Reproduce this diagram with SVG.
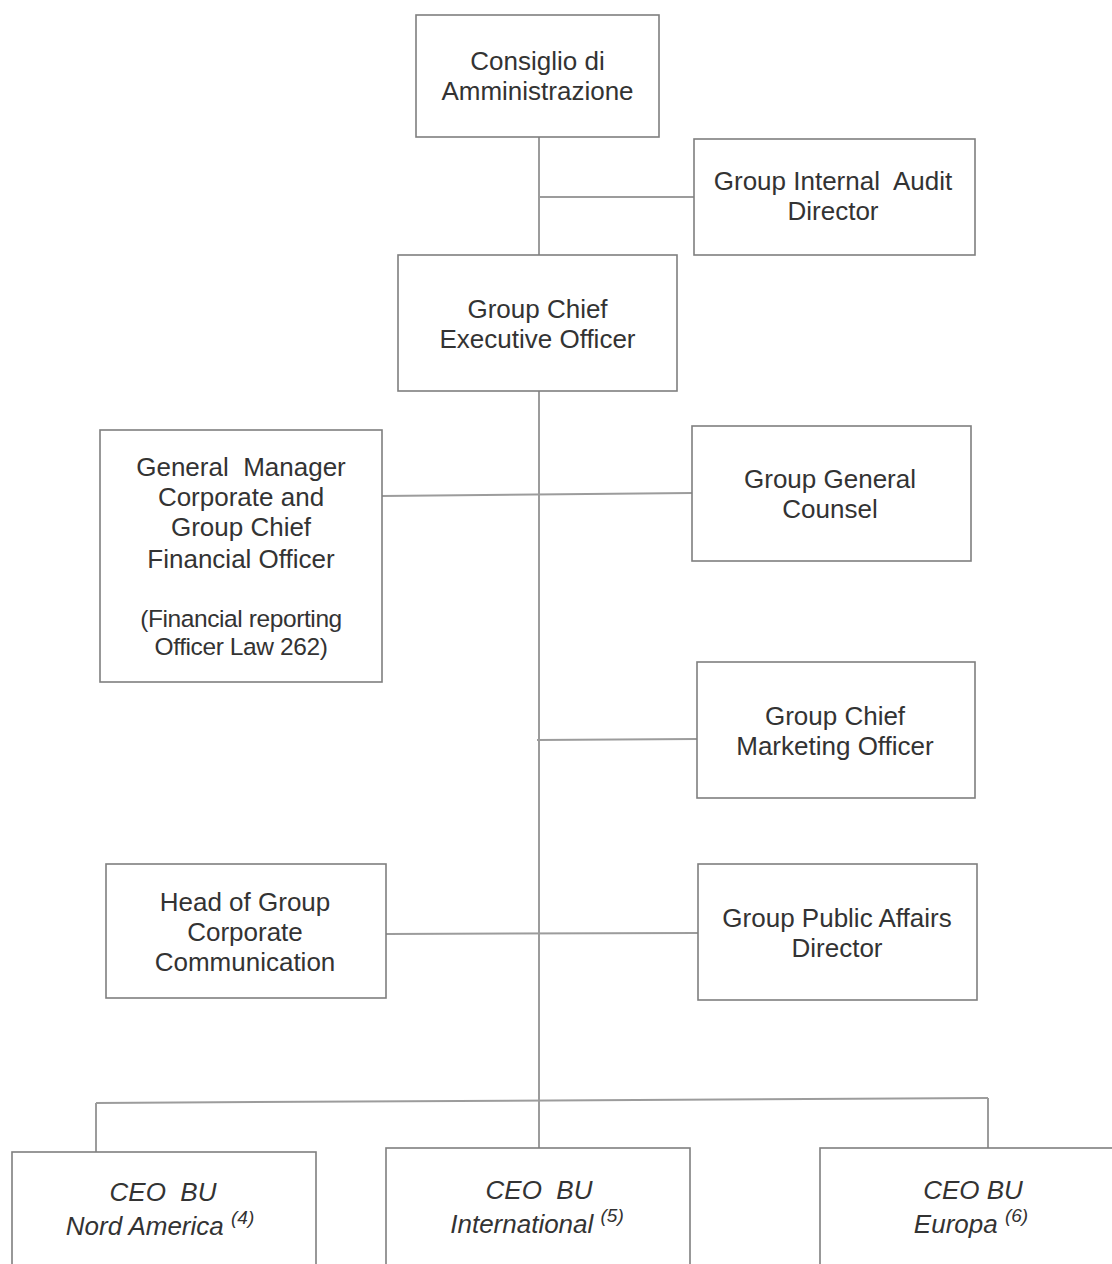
<svg xmlns="http://www.w3.org/2000/svg" width="1112" height="1264" viewBox="0 0 1112 1264">
<style>
.box{fill:#fff;stroke:#7f7f7f;stroke-width:1.6}
.ln{stroke:#9c9c9c;stroke-width:2;fill:none}
text{font-family:"Liberation Sans",Arial,sans-serif;font-size:26px;fill:#333;text-anchor:middle}
.it{font-style:italic}
.sm{font-size:24.5px;letter-spacing:-0.4px}
.sup{font-size:19px}
</style>
<rect width="1112" height="1264" fill="#fff"/>
<g id="connectors">
<line class="ln" x1="539" y1="137" x2="539" y2="255"/>
<line class="ln" x1="539" y1="197" x2="694" y2="197"/>
<line class="ln" x1="539" y1="391" x2="539" y2="1148"/>
<line class="ln" x1="382" y1="496" x2="692" y2="493"/>
<line class="ln" x1="537" y1="740" x2="697" y2="739"/>
<line class="ln" x1="386" y1="934" x2="698" y2="933"/>
<line class="ln" x1="96" y1="1103" x2="988" y2="1098"/>
<line class="ln" x1="96" y1="1103" x2="96" y2="1152"/>
<line class="ln" x1="988" y1="1098" x2="988" y2="1148"/>
</g>
<g id="consiglio">
<rect class="box" x="416" y="15" width="243" height="122"/>
<text x="537.5" y="70">Consiglio di</text>
<text x="537.5" y="100">Amministrazione</text>
</g>
<g id="audit">
<rect class="box" x="694" y="139" width="281" height="116"/>
<text x="833" y="190" xml:space="preserve">Group Internal  Audit</text>
<text x="833" y="220">Director</text>
</g>
<g id="ceo">
<rect class="box" x="398" y="255" width="279" height="136"/>
<text x="537.5" y="318">Group Chief</text>
<text x="537.5" y="348">Executive Officer</text>
</g>
<g id="cfo">
<rect class="box" x="100" y="430" width="282" height="252"/>
<text x="241" y="476" xml:space="preserve">General  Manager</text>
<text x="241" y="506">Corporate and</text>
<text x="241" y="536">Group Chief</text>
<text x="241" y="568">Financial Officer</text>
<text class="sm" x="241" y="627">(Financial reporting</text>
<text class="sm" x="241" y="655">Officer Law 262)</text>
</g>
<g id="counsel">
<rect class="box" x="692" y="426" width="279" height="135"/>
<text x="830" y="488">Group General</text>
<text x="830" y="518">Counsel</text>
</g>
<g id="cmo">
<rect class="box" x="697" y="662" width="278" height="136"/>
<text x="835" y="725">Group Chief</text>
<text x="835" y="755">Marketing Officer</text>
</g>
<g id="communication">
<rect class="box" x="106" y="864" width="280" height="134"/>
<text x="245" y="911">Head of Group</text>
<text x="245" y="941">Corporate</text>
<text x="245" y="971">Communication</text>
</g>
<g id="public-affairs">
<rect class="box" x="698" y="864" width="279" height="136"/>
<text x="837" y="927">Group Public Affairs</text>
<text x="837" y="957">Director</text>
</g>
<g id="bu-nord-america">
<rect class="box" x="12" y="1152" width="304" height="130"/>
<text class="it" x="163" y="1201" xml:space="preserve">CEO  BU</text>
<text class="it" x="160" y="1235">Nord America <tspan class="sup" dy="-11">(4)</tspan></text>
</g>
<g id="bu-international">
<rect class="box" x="386" y="1148" width="304" height="130"/>
<text class="it" x="539" y="1199" xml:space="preserve">CEO  BU</text>
<text class="it" x="537" y="1233">International <tspan class="sup" dy="-11">(5)</tspan></text>
</g>
<g id="bu-europa">
<rect class="box" x="820" y="1148" width="304" height="130"/>
<text class="it" x="973" y="1199">CEO BU</text>
<text class="it" x="971" y="1233">Europa <tspan class="sup" dy="-11">(6)</tspan></text>
</g>
</svg>
